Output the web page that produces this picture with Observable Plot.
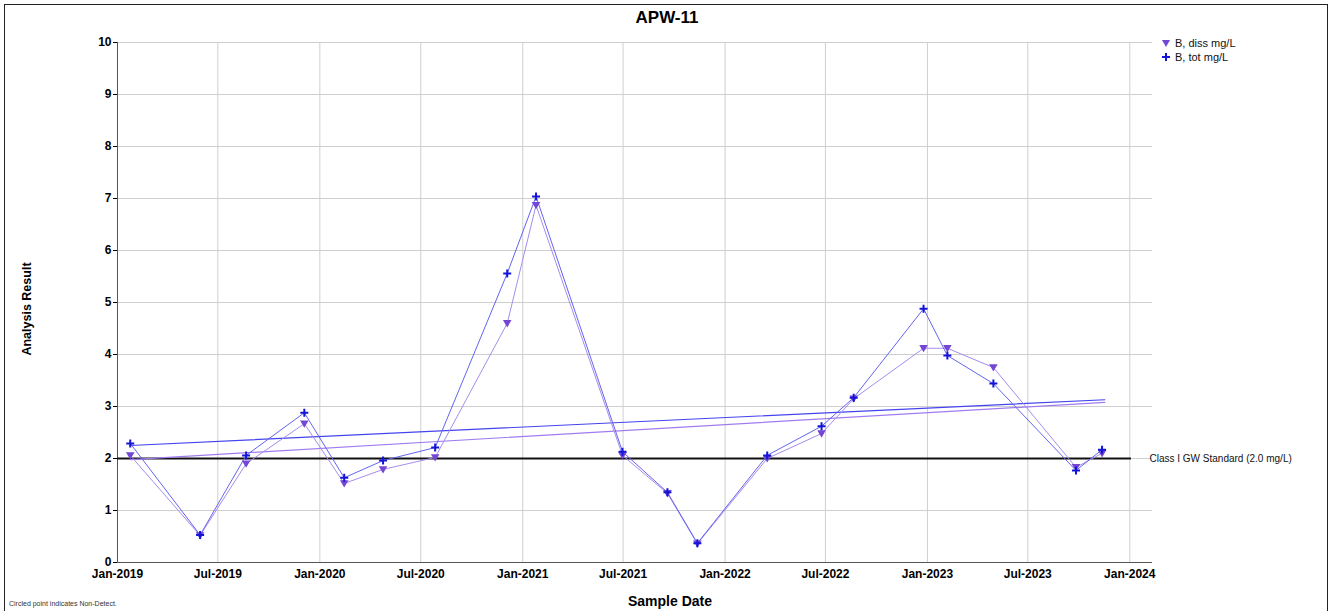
<!DOCTYPE html>
<html>
<head>
<meta charset="utf-8">
<script src="https://cdn.jsdelivr.net/npm/d3@7"></script>
<script src="https://cdn.jsdelivr.net/npm/@observablehq/plot@0.6"></script>
<style>
  html, body { margin:0; padding:0; background:#fff; }
  #wrap { position:relative; width:1332px; height:611px; overflow:hidden; font-family:"Liberation Sans", Arial, sans-serif; }
  #wrap > svg { position:absolute; left:0; top:0; }
  .ov { position:absolute; color:#000; white-space:nowrap; }
  .ov svg { display:block; }
</style>
</head>
<body>
<div id="wrap"></div>
<script>
// ---- data ----
const sampleDates = ["2019-01-24","2019-05-30","2019-08-21","2019-12-04","2020-02-14","2020-04-24","2020-07-27","2020-12-04","2021-01-25","2021-06-30","2021-09-19","2021-11-12","2022-03-18","2022-06-24","2022-08-21","2022-12-25","2023-02-06","2023-04-30","2023-09-26","2023-11-12"];
const bDiss = [2.06,0.52,1.90,2.67,1.52,1.79,2.02,4.60,6.87,2.06,1.33,0.36,2.00,2.48,3.15,4.12,4.12,3.75,1.83,2.10];
const bTot  = [2.29,0.53,2.06,2.88,1.63,1.96,2.21,5.56,7.04,2.13,1.35,0.37,2.06,2.62,3.17,4.88,3.98,3.44,1.77,2.17];
const trendDates = ["2019-01-24","2023-11-17"];
const trendDiss = [1.98, 3.08];
const trendTot  = [2.25, 3.13];
const standardValue = 2.0;
const standardLabel = "Class I GW Standard (2.0 mg/L)";
const xTickLabels = ["2019-01-01","2019-07-01","2020-01-01","2020-07-01","2021-01-01","2021-07-01","2022-01-01","2022-07-01","2023-01-01","2023-07-01","2024-01-01"];
const yTicks = [0,1,2,3,4,5,6,7,8,9,10];
const seriesNames = ["B, diss mg/L","B, tot mg/L"];

const parse = s => new Date(s + "T00:00:00Z");
const diss = sampleDates.map((d,i) => ({date: parse(d), v: bDiss[i]}));
const tot  = sampleDates.map((d,i) => ({date: parse(d), v: bTot[i]}));
const tDiss = trendDates.map((d,i) => ({date: parse(d), v: trendDiss[i]}));
const tTot  = trendDates.map((d,i) => ({date: parse(d), v: trendTot[i]}));
const xTickDates = xTickLabels.map(parse);

const triDown = { draw(ctx, size) { const r = Math.sqrt(size / Math.PI); ctx.moveTo(-r, -r*0.75); ctx.lineTo(r, -r*0.75); ctx.lineTo(0, r*0.95); ctx.closePath(); } };
const plus = { draw(ctx, size) { const r = Math.sqrt(size / Math.PI); ctx.moveTo(-r, 0); ctx.lineTo(r, 0); ctx.moveTo(0, -r); ctx.lineTo(0, r); } };

const cTotLine = "#6464f2", cTotMark = "#1414d8", cDissLine = "#a68cee", cDissMark = "#7446d4";
const cTrendTot = "#4444ee", cTrendDiss = "#a07cf0";

const chart = Plot.plot({
  width: 1332, height: 611,
  marginLeft: 117, marginRight: 180, marginTop: 42, marginBottom: 49,
  style: { fontFamily: "'Liberation Sans', Arial, sans-serif", fontSize: "12px", fontWeight: "bold", color: "#000", background: "transparent", overflow: "visible" },
  x: { type: "utc", domain: [parse("2019-01-01"), parse("2024-02-11")], ticks: xTickDates, tickFormat: d3.utcFormat("%b-%Y"), label: null, tickSize: 0, tickPadding: 7 },
  y: { domain: [0, 10], ticks: yTicks, label: null, tickSize: 4, tickPadding: 2 },
  marks: [
    Plot.ruleX(xTickDates, { stroke: "#cfcfcf", strokeWidth: 1 }),
    Plot.ruleY(yTicks, { stroke: "#cfcfcf", strokeWidth: 1 }),
    Plot.ruleY([0], { stroke: "#555", strokeWidth: 1 }),
    Plot.ruleX([parse("2019-01-01")], { stroke: "#555", strokeWidth: 1 }),
    Plot.ruleY([standardValue], { x1: parse("2019-01-01"), x2: parse("2024-01-04"), stroke: "#111", strokeWidth: 2 }),
    Plot.text([standardLabel], { frameAnchor: "right", y: [standardValue], textAnchor: "start", dx: -3, fontSize: 10, fontWeight: "normal", fill: "#111" }),
    Plot.line(tTot, { x: "date", y: "v", stroke: cTrendTot, strokeWidth: 1.2 }),
    Plot.line(tDiss, { x: "date", y: "v", stroke: cTrendDiss, strokeWidth: 1.2 }),
    Plot.line(diss, { x: "date", y: "v", stroke: cDissLine, strokeWidth: 1 }),
    Plot.line(tot, { x: "date", y: "v", stroke: cTotLine, strokeWidth: 1 }),
    Plot.dot(diss, { x: "date", y: "v", symbol: triDown, r: 4.3, fill: cDissMark, stroke: "none" }),
    Plot.dot(tot, { x: "date", y: "v", symbol: plus, r: 4, stroke: cTotMark, strokeWidth: 2, fill: "none" })
  ]
});

const wrap = document.getElementById("wrap");
wrap.appendChild(chart);

function ov(html, css) { const d = document.createElement("div"); d.className = "ov"; d.innerHTML = html; Object.assign(d.style, css); wrap.appendChild(d); return d; }
// frame
ov("", { left: "4px", top: "4px", width: "1322px", height: "700px", border: "1.5px solid #222" });
ov("APW-11", { left: "0px", width: "1334px", top: "8px", textAlign: "center", fontSize: "17px", fontWeight: "bold" });
ov("Sample Date", { left: "0px", width: "1340px", top: "593px", textAlign: "center", fontSize: "14px", fontWeight: "bold" });
ov("Analysis Result", { left: "27px", top: "309px", fontSize: "12.5px", fontWeight: "bold", transform: "translate(-50%,-50%) rotate(-90deg)" });
ov("Circled point indicates Non-Detect.", { left: "9px", top: "600px", fontSize: "7px", color: "#333" });
// legend
ov(
  `<div style="display:flex;align-items:center;height:14px"><svg width="10" height="10" style="margin-right:4px"><path d="M1,2 L9,2 L5,9 Z" fill="${cDissMark}"/></svg>${seriesNames[0]}</div>` +
  `<div style="display:flex;align-items:center;height:14px"><svg width="10" height="10" style="margin-right:4px"><path d="M1,5 L9,5 M5,1 L5,9" stroke="${cTotMark}" stroke-width="2"/></svg>${seriesNames[1]}</div>`,
  { left: "1161px", top: "36px", fontSize: "11px", fontWeight: "normal", color: "#111" });
</script>
</body>
</html>
